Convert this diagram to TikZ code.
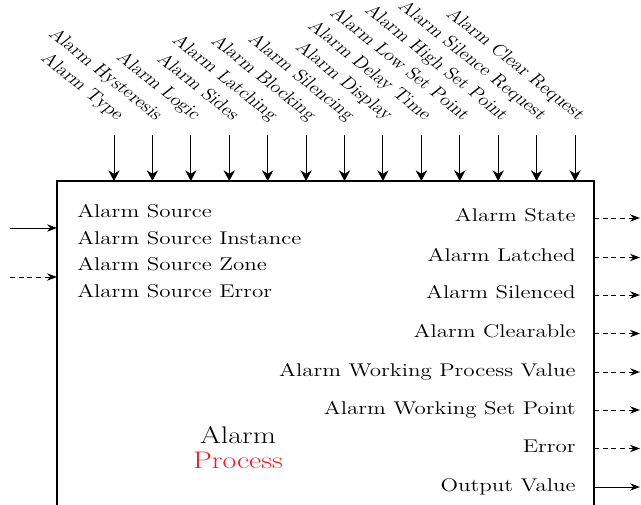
\documentclass[tikz,border=0pt]{standalone}
\usepackage{xcolor}
\usetikzlibrary{arrows.meta,positioning}
\definecolor{Ink}{HTML}{000000}
\definecolor{ProcRed}{HTML}{ED1C24}

\begin{document}
\begin{tikzpicture}[x=0.75pt,y=-0.75pt,
  sigtext/.style={Ink,font=\fontsize{13.8}{16}\selectfont,inner sep=0pt,xscale=1.25},
  toptext/.style={sigtext,font=\fontsize{12.4}{15}\selectfont,rotate=-45,anchor=base east},
  wire/.style={Ink,line width=0.7pt,-{Stealth[length=7.5pt,width=5.5pt]}},
  downwire/.style={Ink,line width=0.7pt,-{Stealth[length=8pt,width=8.5pt]}},
  dashwire/.style={wire,dash pattern=on 3.8pt off 2.7pt}]
  \useasboundingbox (0,0) rectangle (641,505);
  \clip (0,0) rectangle (641,505);
  % block
  \node[draw=Ink,line width=0.9pt,anchor=north west,inner sep=0pt,outer sep=0pt,
    minimum width=402.75pt,minimum height=270pt] (blk) at (57,181) {};
  \node[sigtext,font=\fontsize{18}{19}\selectfont,anchor=base] (title) at (238,443) {Alarm};
  \node[sigtext,ProcRed,font=\fontsize{18}{19}\selectfont,anchor=base] (titletwo) at (238,468) {Process};
  % parameters on top
  \foreach \i/\txt in {0/Alarm Type,1/Alarm Hysteresis,2/Alarm Logic,3/Alarm Sides,
    4/Alarm Latching,5/Alarm Blocking,6/Alarm Silencing,7/Alarm Display,
    8/Alarm Delay Time,9/Alarm Low Set Point,10/Alarm High Set Point,
    11/Alarm Silence Request,12/Alarm Clear Request}
  {
    \coordinate (par\i) at (114+38.42*\i,135);
    \node[toptext] (parlbl\i) at ([shift={(3,-14)}]par\i) {\txt};
    \draw[downwire] (par\i) -- (par\i |- blk.north);
  }
  % inputs
  \foreach \i/\txt in {0/Alarm Source,1/Alarm Source Instance,2/Alarm Source Zone,3/Alarm Source Error}
  {
    \node[sigtext,anchor=base west] (inlbl\i) at (77,218+26.5*\i) {\txt};
  }
  \coordinate (srcA) at (10,228);
  \coordinate (srcB) at (10,277);
  \draw[wire] (srcA) -- (srcA -| blk.west);
  \draw[dashwire] (srcB) -- (srcB -| blk.west);
  % outputs
  \foreach \i/\txt/\y in {0/Alarm State/218,1/Alarm Latched/257.5,2/Alarm Silenced/295,
    3/Alarm Clearable/333.5,4/Alarm Working Process Value/372,
    5/Alarm Working Set Point/410,6/Error/448.5}
  {
    \node[sigtext,anchor=base east] (outlbl\i) at (576,\y+4) {\txt};
    \coordinate (out\i) at (640,\y);
    \draw[dashwire] (out\i -| blk.east) -- (out\i);
  }
  \node[sigtext,anchor=base east] (outlbl7) at (576,491) {Output Value};
  \coordinate (out7) at (640,487);
  \draw[wire] (out7 -| blk.east) -- (out7);
\end{tikzpicture}
\end{document}
